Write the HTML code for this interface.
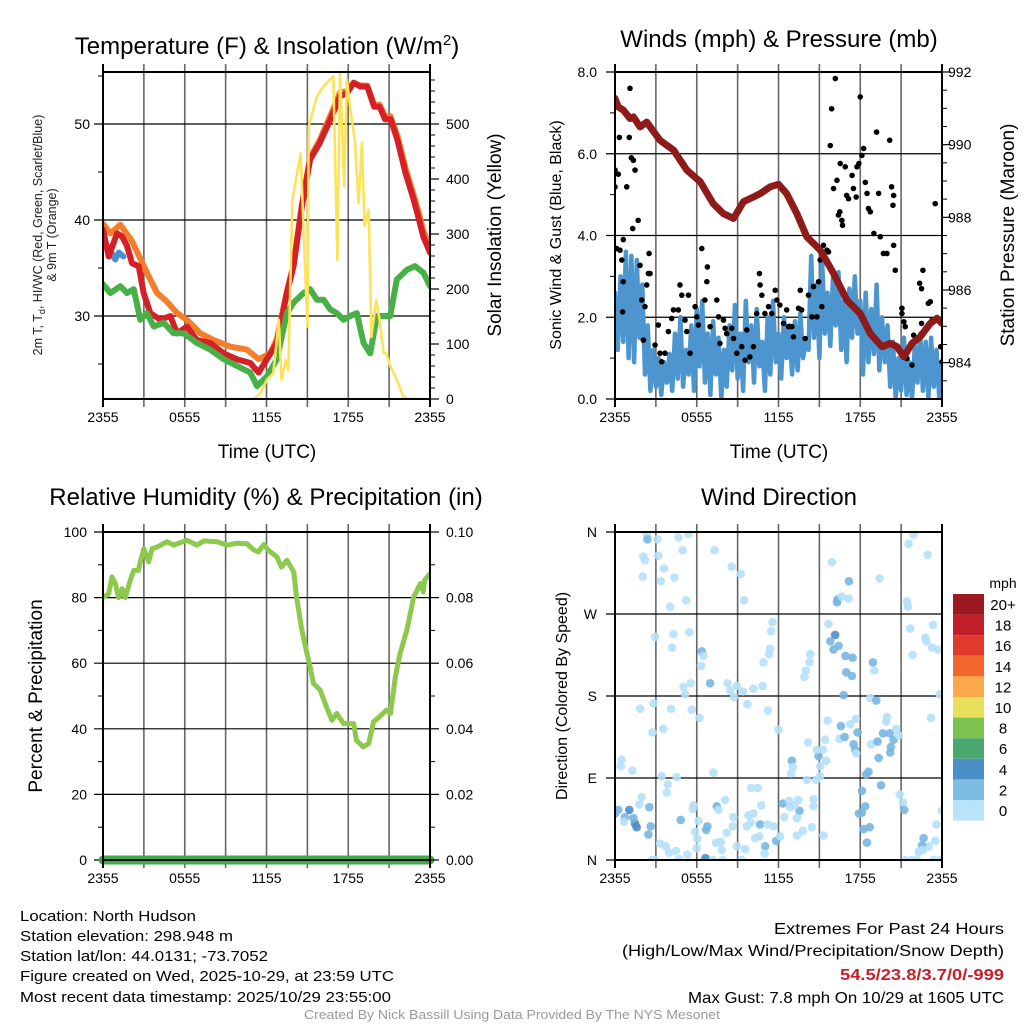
<!DOCTYPE html>
<html><head><meta charset="utf-8"><style>
html,body{margin:0;padding:0;background:#fff;}
svg{display:block;font-family:"Liberation Sans",Arial,sans-serif;}
</style></head><body>
<svg id="fig" width="1024" height="1024" viewBox="0 0 1024 1024">
<defs>
<clipPath id="c1"><rect x="103" y="72" width="327" height="327"/></clipPath>
<clipPath id="c2"><rect x="615" y="72" width="327" height="327"/></clipPath>
<clipPath id="c3"><rect x="103" y="532" width="327" height="328"/></clipPath>
<clipPath id="c4"><rect x="615" y="532" width="327" height="328"/></clipPath>
</defs>
<g id="grids"></g>
<g id="marks"></g>
<g id="frames"></g>
<g id="labels" font-size="14" fill="#000">
<text x="267" y="54" font-size="24" text-anchor="middle">Temperature (F) &amp; Insolation (W/m<tspan dy="-9" font-size="15">2</tspan><tspan dy="9">)</tspan></text>
<text x="779" y="47" font-size="24" text-anchor="middle">Winds (mph) &amp; Pressure (mb)</text>
<text x="266" y="505" font-size="24" text-anchor="middle">Relative Humidity (%) &amp; Precipitation (in)</text>
<text x="779" y="505" font-size="24" text-anchor="middle">Wind Direction</text>
<text x="267" y="458" font-size="19" text-anchor="middle">Time (UTC)</text>
<text x="779" y="458" font-size="19" text-anchor="middle">Time (UTC)</text>
<text transform="translate(42,235) rotate(-90)" font-size="12.5" text-anchor="middle" fill="#222">2m T, T<tspan dy="3" font-size="9">d</tspan><tspan dy="-3">, HI/WC (Red, Green, Scarlet/Blue)</tspan></text>
<text transform="translate(56,235) rotate(-90)" font-size="12.5" text-anchor="middle" fill="#222">&amp; 9m T (Orange)</text>
<text transform="translate(501,235) rotate(-90)" font-size="19" text-anchor="middle">Solar Insolation (Yellow)</text>
<text transform="translate(561,235) rotate(-90)" font-size="16" text-anchor="middle">Sonic Wind &amp; Gust (Blue, Black)</text>
<text transform="translate(1014,235) rotate(-90)" font-size="19" text-anchor="middle">Station Pressure (Maroon)</text>
<text transform="translate(42,696) rotate(-90)" font-size="19" text-anchor="middle">Percent &amp; Precipitation</text>
<text transform="translate(567,696) rotate(-90)" font-size="16" text-anchor="middle">Direction (Colored By Speed)</text>
<text x="1003" y="588" font-size="14" text-anchor="middle">mph</text>
<g font-size="14.5">
<text x="20" y="921" textLength="176" lengthAdjust="spacingAndGlyphs">Location: North Hudson</text>
<text x="20" y="941" textLength="213" lengthAdjust="spacingAndGlyphs">Station elevation: 298.948 m</text>
<text x="20" y="961" textLength="248" lengthAdjust="spacingAndGlyphs">Station lat/lon: 44.0131; -73.7052</text>
<text x="20" y="981" textLength="374" lengthAdjust="spacingAndGlyphs">Figure created on Wed, 2025-10-29, at 23:59 UTC</text>
<text x="20" y="1002" textLength="371" lengthAdjust="spacingAndGlyphs">Most recent data timestamp: 2025/10/29 23:55:00</text>
</g>
<g font-size="16" text-anchor="end">
<text x="1004" y="934" textLength="230" lengthAdjust="spacingAndGlyphs">Extremes For Past 24 Hours</text>
<text x="1004" y="956" textLength="382" lengthAdjust="spacingAndGlyphs">(High/Low/Max Wind/Precipitation/Snow Depth)</text>
<text x="1004" y="980" fill="#c8202a" font-weight="bold" textLength="164" lengthAdjust="spacingAndGlyphs">54.5/23.8/3.7/0/-999</text>
<text x="1004" y="1003" textLength="316" lengthAdjust="spacingAndGlyphs">Max Gust: 7.8 mph On 10/29 at 1605 UTC</text>
</g>
<text x="512" y="1019" font-size="12.5" fill="#9a9a9a" text-anchor="middle" textLength="416" lengthAdjust="spacingAndGlyphs">Created By Nick Bassill Using Data Provided By The NYS Mesonet</text>
</g>
</svg>
<script>
// ---------- data ----------
const xTickHours = [0, 6, 12, 18, 24];
const xTickLabels = ["2355", "0555", "1155", "1755", "2355"];

const tempHours = [0,0.42,1.03,1.39,1.76,2.13,2.62,2.98,3.47,4.21,4.94,5.43,6.16,6.89,7.87,8.85,9.83,10.81,11.42,12.03,12.76,13.5,13.99,14.6,15.2,15.9,16.7,17.4,17.9,18.4,18.9,19.4,19.9,20.3,20.7,21.1,21.6,22.2,22.8,23.2,23.5,24];
const tempValues = [39.0,36.2,38.6,38.3,37.3,35.5,35.2,32.4,30.3,29.6,30.0,28.2,28.9,27.5,27.2,26.1,25.5,25.1,24.1,25.5,27.2,32.4,35.2,41.4,46.3,48.0,50.5,52.9,53.2,54.3,53.9,53.9,51.8,51.8,50.5,50.5,48.4,44.9,42.1,40.0,38.3,36.6];
const temp9mHours = [0,0.54,1.27,2.13,3.23,3.96,4.69,5.43,6.16,7.14,8.12,9.34,10.56,11.42,12.27,12.76,13.5,13.99,14.6,15.2,15.9,16.7,17.4,17.9,18.4,18.9,19.4,19.9,20.3,20.7,21.1,21.6,22.2,22.8,23.2,23.5,24];
const temp9mValues = [39.6,38.6,39.5,37.8,34.5,32.4,31.5,30.3,29.6,28.2,27.5,26.8,26.5,25.5,26.1,27.6,32.6,35.4,41.6,46.5,48.3,50.9,53.3,53.4,54.3,54.0,54.0,52.0,52.0,50.8,50.8,48.8,45.4,42.6,40.6,38.9,37.3];
const windChillHours = [0,0.3,0.9,1.15,1.5];
const windChillValues = [37.7,37.3,35.9,36.6,36.2];
const dewHours = [0,0.54,1.27,1.76,2.25,2.74,3.23,3.72,4.45,5.18,5.92,6.89,7.87,8.85,9.83,10.81,11.3,12.03,12.76,13.5,13.99,14.72,15.2,15.7,16.19,16.67,17.16,17.65,18.14,18.63,19.12,19.61,20.1,20.59,21.08,21.56,22.3,22.9,23.52,24];
const dewValues = [33.3,32.4,33.1,32.4,32.8,29.6,30.3,28.9,29.3,28.2,28.2,27.2,26.5,25.5,24.8,24.1,22.7,23.7,25.5,30.3,31.4,32.4,32.8,31.7,31.7,30.7,30.3,29.6,30.0,30.3,27.2,26.1,30.0,30.0,30.0,33.8,34.8,35.2,34.5,33.1];
const solarHours = [0,11.05,11.54,12.03,12.5,12.9,13.1,13.4,13.6,13.9,14.5,15.0,15.1,15.7,16.2,16.9,17.2,17.4,17.7,17.9,18.1,18.5,18.75,19.0,19.2,19.5,19.7,20.05,20.3,20.6,20.8,21.1,21.56,22.05,22.5,24];
const solarValues = [0,0,10,35,47,144,35,71,53,362,447,132,496,550,569,587,253,593,387,581,538,465,356,465,314,344,113,180,144,83,83,59,35,4,0,0];

const sonicWind = [2.6,1.2,3.0,1.4,3.6,1.0,3.5,0.9,3.4,1.5,2.8,
0.6,1.8,0.2,1.2,0.3,1.0,0.1,0.9,0.4,1.1,
0.2,1.6,0.5,2.0,0.3,1.2,0.6,1.8,0.2,2.2,
0.8,2.4,0.4,1.6,0.1,1.9,0.6,1.5,0.0,1.2,
0.3,1.8,0.7,2.3,0.5,1.6,0.2,2.4,0.9,1.8,
0.4,2.2,0.8,1.4,0.2,2.0,0.6,2.4,0.9,1.6,
0.5,2.0,1.0,1.8,0.6,1.9,0.7,2.1,1.0,1.4,
1.2,3.5,1.5,2.8,1.0,3.4,1.6,2.6,1.3,3.0,
1.8,3.1,1.2,2.4,0.9,2.7,1.5,3.0,1.6,2.4,
0.6,2.6,0.9,2.2,1.1,2.8,0.7,2.0,0.9,1.8,
0.3,1.4,0.0,1.0,0.2,1.5,0.1,0.9,0.0,1.3,
0.4,1.6,0.2,1.4,0.0,1.5,0.3,1.2,0.0,0.9];
const sonicStepHours = 0.2;

const gustHours = [0,0,0.24,0.32,0.12,0.37,0.5,0.61,0.6,0.56,0.86,1.05,1.1,1.2,1.35,1.47,1.3,1.7,1.84,1.96,2.2,2.45,2.5,2.57,2.33,2.08,2.94,3.18,3.3,3.43,3.67,3.92,4.16,4.29,4.65,4.77,4.9,5.14,5.39,5.27,5.51,6.0,5.88,6.12,6.37,6.6,6.74,6.78,6.98,7.47,7.6,7.7,7.96,8.08,8.2,8.57,8.7,8.94,9.3,9.55,9.67,9.9,10.16,10.4,10.6,10.65,10.78,11.0,11.27,11.5,11.76,11.88,12.1,12.37,12.6,12.74,12.98,13.1,13.47,13.6,13.7,13.96,14.2,14.45,14.57,14.82,14.94,15.06,15.18,15.3,15.55,15.67,15.8,15.9,16.04,16.17,16.29,16.4,16.5,16.53,16.65,16.7,16.9,17.0,17.14,17.4,17.5,17.7,17.76,17.9,18.0,18.12,18.25,18.37,18.5,18.6,18.74,19.0,19.2,19.35,19.47,19.7,19.96,20.16,20.3,20.4,20.45,20.45,20.57,21.06,21.06,21.2,21.3,21.43,21.8,21.92,22.36,22.5,22.6,22.5,23.0,23.14,23.27,23.5,23.9,24];
const gustValues = [5.19,5.6,5.5,6.4,3.68,3.64,3.4,3.9,2.87,2.13,5.19,6.4,7.6,5.9,5.84,5.6,4.17,4.37,3.27,2.42,2.26,3.07,3.56,3.07,2.79,1.44,1.32,1.81,1.12,0.91,1.12,1.65,1.97,2.18,2.18,2.79,2.54,1.93,2.54,1.65,1.12,2.01,2.26,1.81,3.68,2.42,2.87,3.23,1.77,2.42,2.01,1.36,1.93,1.73,1.6,1.73,1.48,1.12,1.28,0.95,1.69,1.03,1.28,2.09,3.07,2.79,2.54,2.09,2.26,2.09,2.66,2.42,2.3,1.85,2.18,1.77,1.77,1.52,2.22,2.66,2.18,1.48,2.54,2.01,2.75,2.01,2.87,3.4,2.26,3.76,3.64,3.6,6.2,7.1,5.15,7.84,5.35,4.5,4.58,5.76,4.37,4.25,5.68,4.98,4.9,5.47,5.15,4.94,5.68,5.76,7.39,5.96,6.13,5.3,5.03,4.66,4.58,4.05,6.53,5.03,3.97,3.56,3.56,6.33,5.19,4.74,4.98,3.76,3.15,2.22,2.09,1.89,1.77,0.99,0.83,1.56,2.83,2.7,3.15,1.85,2.34,2.38,1.93,4.78,1.28,0.91];

const pressureHours = [0,0.24,0.61,1.1,1.35,1.84,2.33,3.3,4.29,5.27,6.25,7.2,7.96,8.7,9.43,10.16,10.65,11.39,12.0,12.6,13.35,14.08,15.06,16.04,17.02,18.0,18.74,19.6,20.2,20.7,21.2,21.8,22.4,23.14,23.63,24];
const pressureValues = [991.27,991.04,990.95,990.72,990.76,990.49,990.62,990.12,989.85,989.3,988.98,988.38,988.1,987.97,988.43,988.56,988.65,988.84,988.91,988.65,988.1,987.46,987.1,986.46,985.72,985.35,984.8,984.44,984.53,984.44,984.16,984.53,984.71,985.08,985.22,985.08];

const rhHours = [0,0.42,0.66,0.9,1.15,1.4,1.64,2.0,2.25,2.6,2.74,3.0,3.35,3.6,3.96,4.69,5.18,6.16,6.9,7.4,8.36,9.1,9.83,10.56,11.05,11.4,11.8,12.15,12.76,13.1,13.5,14.0,14.2,14.6,14.97,15.2,15.45,15.94,16.4,16.8,17.15,17.65,18.4,18.6,19.1,19.5,19.85,20.3,20.8,21.1,21.45,21.8,22.3,22.8,23.3,23.5,23.6,24];
const rhValues = [80,81.2,86.3,84.3,80,82.7,80,85.3,88.3,88.3,90.9,94.9,90.9,94.9,95.4,97,96,97.5,96,97.3,97,96,96.6,96.4,94.6,93.9,96.2,94.4,92.4,89.3,91.4,87.8,80.2,70,62.9,58.9,53.8,51.8,46.7,42.6,44.7,41.6,41.6,36.5,34.5,35.5,42.1,43.7,45.7,44.7,55.8,62.9,70,80.2,84.3,81.7,85.3,87.3];
const precipHours = [0,24];
const precipValues = [0,0];

const dirHours = [2.33,2.38,3.11,2.08,2.2,2.03,3.18,3.6,3.36,4.36,4.65,5.39,4.97,4.04,5.22,7.3,8.57,9.23,9.48,2.94,4.29,4.19,5.46,6.37,6.49,6.32,5.02,5.56,5.14,6.98,8.25,8.45,8.94,8.74,9.38,10.16,10.83,9.72,10.9,11.32,11.39,11.46,11.56,11.22,12.0,1.84,2.82,4.11,5.63,6.2,2.74,3.55,0.49,0.42,1.27,3.43,4.53,7.22,3.87,3.8,1.96,1.79,2.52,2.62,2.45,1.05,1.47,1.59,0,0.24,0.73,1.35,0.66,3.31,3.72,3.97,4.48,4.7,5.31,2.69,2.94,4.82,5.76,5.71,6.12,5.88,6.05,6.0,6.64,7.18,7.91,6.69,6.78,7.47,7.59,8.08,8.69,8.65,8.2,7.42,7.76,7.84,8.94,9.55,9.31,9.99,10.48,10.73,9.8,10.16,9.67,9.97,10.65,11.02,10.97,10.29,10.6,11.19,11.63,11.83,12.12,12.32,12.78,12.86,13.47,13.54,13.18,12.42,13.35,13.79,13.35,14.45,14.57,14.57,14.77,15.06,14.08,15.06,14.94,14.82,15.26,15.5,12.98,13.05,12.93,14.16,15.43,15.6,15.3,16.48,16.58,16.85,17.27,17.68,17.8,17.51,17.63,17.7,18.79,19.27,19.35,18.44,18.61,19.52,18.12,18.37,17.9,18.12,18.25,18.69,18.49,19.67,19.96,19.91,20.16,20.45,20.25,20.65,20.82,20.2,18.74,19.18,18.93,19.03,16.78,16.92,17.44,16.97,17.39,15.8,16.16,16.04,16.41,15.67,16.29,16.34,16.65,17.14,17.17,15.92,19.42,14.33,14.28,14.01,13.91,21.43,21.5,21.67,21.85,22.78,22.85,23.27,23.34,23.71,23.83,23.19,21.55,21.92,22.95,20.89,21.14,21.23,24,23.59,23.51,23.02,22.65,22.53,22.41,22.6,22.29,21.31,21.8,22.16,23.39,23.88];
const dirDegrees = [357,352,352,333,329,311,334,320,306,310,354,358,340,278,285,340,322,314,285,245,248,233,250,229,224,213,190,194,182,194,194,186,191,179,185,188,191,171,217,226,232,251,261,164,143,166,172,166,165,156,140,144,110,103,98,92,91,96,83,74,69,61,58,37,28,55,40,36,51,55,47,46,42,18,15,8,10,1,6,0,0,44,60,56,43,31,23,13,2,0,0,33,37,59,55,66,47,37,30,19,20,11,15,12,0,79,79,60,49,51,37,41,39,15,7,24,26,39,37,21,26,62,65,58,66,54,60,47,46,32,27,36,59,67,88,92,88,103,114,121,121,109,109,102,95,129,132,153,27,133,147,135,149,155,140,127,121,117,127,130,112,94,97,82,76,59,51,52,34,36,19,139,157,152,139,132,124,144,137,118,178,175,217,208,181,224,222,206,202,240,247,231,235,259,283,286,289,287,306,327,309,226,217,208,201,284,278,254,225,244,240,233,258,231,182,156,347,357,335,72,63,55,54,39,21,15,24,16,10,11,9,0,0,0,0,0];
const dirSpeeds = [1,3,1,1,1,1,1,1,1,1,1,1,1,1,1,1,1,1,1,1,1,1,1,3,1,1,1,1,1,3,1,1,1,1,1,1,1,1,1,1,1,1,1,1,1,1,1,1,1,1,1,1,1,1,1,1,1,1,1,1,1,1,3,3,3,5,5,5,3,3,3,3,1,1,1,1,1,1,1,1,1,3,1,1,1,1,1,1,5,1,1,3,3,3,1,1,1,1,1,1,1,1,1,1,1,1,1,1,1,1,1,1,3,3,1,1,1,1,1,3,1,3,1,1,1,3,1,1,1,1,1,1,1,1,1,1,1,1,3,1,1,1,3,1,1,1,1,1,1,1,3,3,1,1,3,3,3,1,1,3,3,3,3,3,3,3,3,3,3,3,3,3,1,1,3,3,3,1,1,3,1,3,3,1,3,3,3,3,3,3,5,3,3,1,3,3,1,1,3,1,1,1,1,1,1,1,1,1,1,1,1,1,1,1,1,1,1,1,1,1,1,3,1,1,1,1,3,3,1,1,1,1,1,1];

const colorbarLabels = ["20+","18","16","14","12","10","8","6","4","2","0"];
const colorbarColors = ["#9b1a1f","#c01f29","#e0392d","#f2662c","#f9a949","#e8e05a","#7dc24e","#4aa86f","#4b8fc7","#7fbce5","#b9e3f8"];

// ---------- helpers ----------
const NS = "http://www.w3.org/2000/svg";
const G = document.getElementById("grids"), M = document.getElementById("marks"), F = document.getElementById("frames"), L = document.getElementById("labels");
function el(tag, attrs, parent) { const e = document.createElementNS(NS, tag); for (const k in attrs) e.setAttribute(k, attrs[k]); parent.appendChild(e); return e; }
function xs(x0) { return h => x0 + h * (327 / 24); }
const xP1 = xs(103), xP2 = xs(615);
const yTemp = v => 124 + (50 - v) * 9.6;
const ySolar = v => 399 - v * 0.55;
const yWind = v => 399 - v * (327 / 8);
const yPres = v => 72 + (992 - v) * 36.33;
const yRH = v => 860 - v * 3.28;
const yPrecip = v => 860 - v * 3280;
const yDir = v => 860 - v * (328 / 360);
function pathD(hs, vs, fx, fy) { return hs.map((h, i) => (i ? "L" : "M") + fx(h).toFixed(1) + "," + fy(vs[i]).toFixed(1)).join(""); }
function txt(x, y, s, anchor, size, parent) { const t = el("text", {x: x, y: y, "text-anchor": anchor, "font-size": size}, parent || L); t.textContent = s; return t; }

function panel(x0, y0, yTicks, rightTicks, minorLeft, minorRight, name) {
  const x1 = x0 + 327, y1 = y0 + (y0 > 500 ? 328 : 327);
  // vertical grid every 3 h
  for (let k = 1; k < 8; k++) {
    const x = x0 + k * 327 / 8;
    const ln = el("line", {x1: x, x2: x, y1: y0 - 8, y2: y1 + 8, stroke: "#666", "stroke-width": 1.6}, G);
    
    
  }
  yTicks.forEach(y => {
    const ln = el("line", {x1: x0 - 9, x2: x1, y1: y, y2: y, stroke: "#000", "stroke-width": 1.2}, G);
    
    
  });
  minorLeft.forEach(y => el("line", {x1: x0 - 5, x2: x0, y1: y, y2: y, stroke: "#000", "stroke-width": 1}, F));
  rightTicks.forEach(y => el("line", {x1: x1, x2: x1 + 9, y1: y, y2: y, stroke: "#000", "stroke-width": 1.2}, F));
  minorRight.forEach(y => el("line", {x1: x1, x2: x1 + 5, y1: y, y2: y, stroke: "#000", "stroke-width": 1}, F));
  [x0, x1].forEach(x => el("line", {x1: x, x2: x, y1: y0 - 8, y2: y1 + 8, stroke: "#000", "stroke-width": 2}, F));
  const fr = el("rect", {x: x0, y: y0, width: 327, height: y1 - y0, fill: "none", stroke: "#000", "stroke-width": 2}, F);
  
  
  xTickHours.forEach((h, i) => {
    const t = txt(x0 + h * 327 / 24, y1 + 23, xTickLabels[i], "middle", 14);
    
    
  });
}
function range(a, b, s) { const r = []; for (let v = a; v <= b + 1e-9; v += s) r.push(v); return r; }

// ---------- panel 1 ----------
const p1Left = [50, 40, 30];
const p1Right = [0, 100, 200, 300, 400, 500];
panel(103, 72, p1Left.map(yTemp), p1Right.map(ySolar), [55, 45, 35, 25].map(yTemp), range(20, 580, 20).filter(v => v % 100).map(ySolar), "temperature");
p1Left.forEach(v => { const t = txt(90, yTemp(v) + 5, String(v), "end", 14);   });
p1Right.forEach(v => { const t = txt(446, ySolar(v) + 5, String(v), "start", 14);   });
const g1 = el("g", {"clip-path": "url(#c1)", fill: "none", "stroke-linejoin": "round", "stroke-linecap": "round"}, M);
let p;
p = el("path", {d: pathD(temp9mHours, temp9mValues, xP1, yTemp), stroke: "#f47f2a", "stroke-width": 6}, g1);


p = el("path", {d: pathD(windChillHours, windChillValues, xP1, yTemp), stroke: "#4a8fc8", "stroke-width": 6}, g1);


p = el("path", {d: pathD(tempHours, tempValues, xP1, yTemp), stroke: "#d52027", "stroke-width": 6}, g1);


p = el("path", {d: pathD(dewHours, dewValues, xP1, yTemp), stroke: "#47b047", "stroke-width": 6}, g1);


p = el("path", {d: pathD(solarHours, solarValues, xP1, ySolar), stroke: "#fce35a", "stroke-width": 2.6}, g1);



// ---------- panel 2 ----------
const p2Left = [0, 2, 4, 6, 8];
const p2Right = [984, 986, 988, 990, 992];
panel(615, 72, p2Left.map(yWind), p2Right.map(yPres), [1, 3, 5, 7].map(yWind), range(983.5, 991.5, 0.5).filter(v => v % 2).map(yPres), "winds");
p2Left.forEach(v => { const t = txt(597, yWind(v) + 5, v.toFixed(1), "end", 14);   });
p2Right.forEach(v => { const t = txt(948, yPres(v) + 5, String(v), "start", 14);   });
const g2 = el("g", {"clip-path": "url(#c2)", fill: "none", "stroke-linejoin": "round", "stroke-linecap": "round"}, M);
const sonicHours = sonicWind.map((v, i) => i * sonicStepHours);
p = el("path", {d: pathD(sonicHours, sonicWind, xP2, yWind), stroke: "#4d95cf", "stroke-width": 4.5}, g2);


gustHours.forEach((h, i) => {
  const c = el("circle", {cx: xP2(h), cy: yWind(gustValues[i]), r: 2.8, fill: "#000"}, g2);
  
  
});
p = el("path", {d: pathD(pressureHours, pressureValues, xP2, yPres), stroke: "#8e1a1a", "stroke-width": 7}, g2);



// ---------- panel 3 ----------
const p3Left = [0, 20, 40, 60, 80, 100];
panel(103, 532, p3Left.map(yRH), p3Left.map(yRH), [10, 30, 50, 70, 90].map(yRH), [10, 30, 50, 70, 90].map(yRH), "humidity");
p3Left.forEach(v => { const t = txt(87, yRH(v) + 5, String(v), "end", 14);   });
p3Left.forEach(v => { const t = txt(446, yRH(v) + 5, (v / 1000).toFixed(2), "start", 14);   });
const g3 = el("g", {fill: "none", "stroke-linejoin": "round", "stroke-linecap": "round"}, M);
p = el("path", {d: pathD(rhHours, rhValues, xP1, yRH), stroke: "#8dc94c", "stroke-width": 5, "clip-path": "url(#c3)"}, g3);


p = el("path", {d: pathD(precipHours, precipValues, xP1, yPrecip), stroke: "#3fad45", "stroke-width": 9}, g3);



// ---------- panel 4 ----------
const dirTickDeg = [0, 90, 180, 270, 360];
const dirTickLabels = ["N", "E", "S", "W", "N"];
panel(615, 532, dirTickDeg.map(yDir), [], [], [], "direction");
dirTickDeg.forEach((d, i) => { const t = txt(597, yDir(d) + 5, dirTickLabels[i], "end", 14);   });
const g4 = el("g", {"clip-path": "url(#c4)"}, M);
function speedColor(s) { return s >= 4 ? "#4a8ec6" : s >= 2 ? "#78b6e2" : "#b5e0f8"; }
dirHours.forEach((h, i) => {
  const c = el("circle", {cx: xP2(h), cy: yDir(dirDegrees[i]), r: 4.3, fill: speedColor(dirSpeeds[i]), "fill-opacity": 0.9}, g4);
  
  
});
// colorbar
colorbarColors.forEach((col, i) => {
  const y = 594 + i * 20.6;
  const r = el("rect", {x: 953, y: y, width: 31, height: 20.6, fill: col}, L);
  
  
  const t = txt(1003, y + 16, colorbarLabels[i], "middle", 15);
  
  
});
</script>
</body></html>
